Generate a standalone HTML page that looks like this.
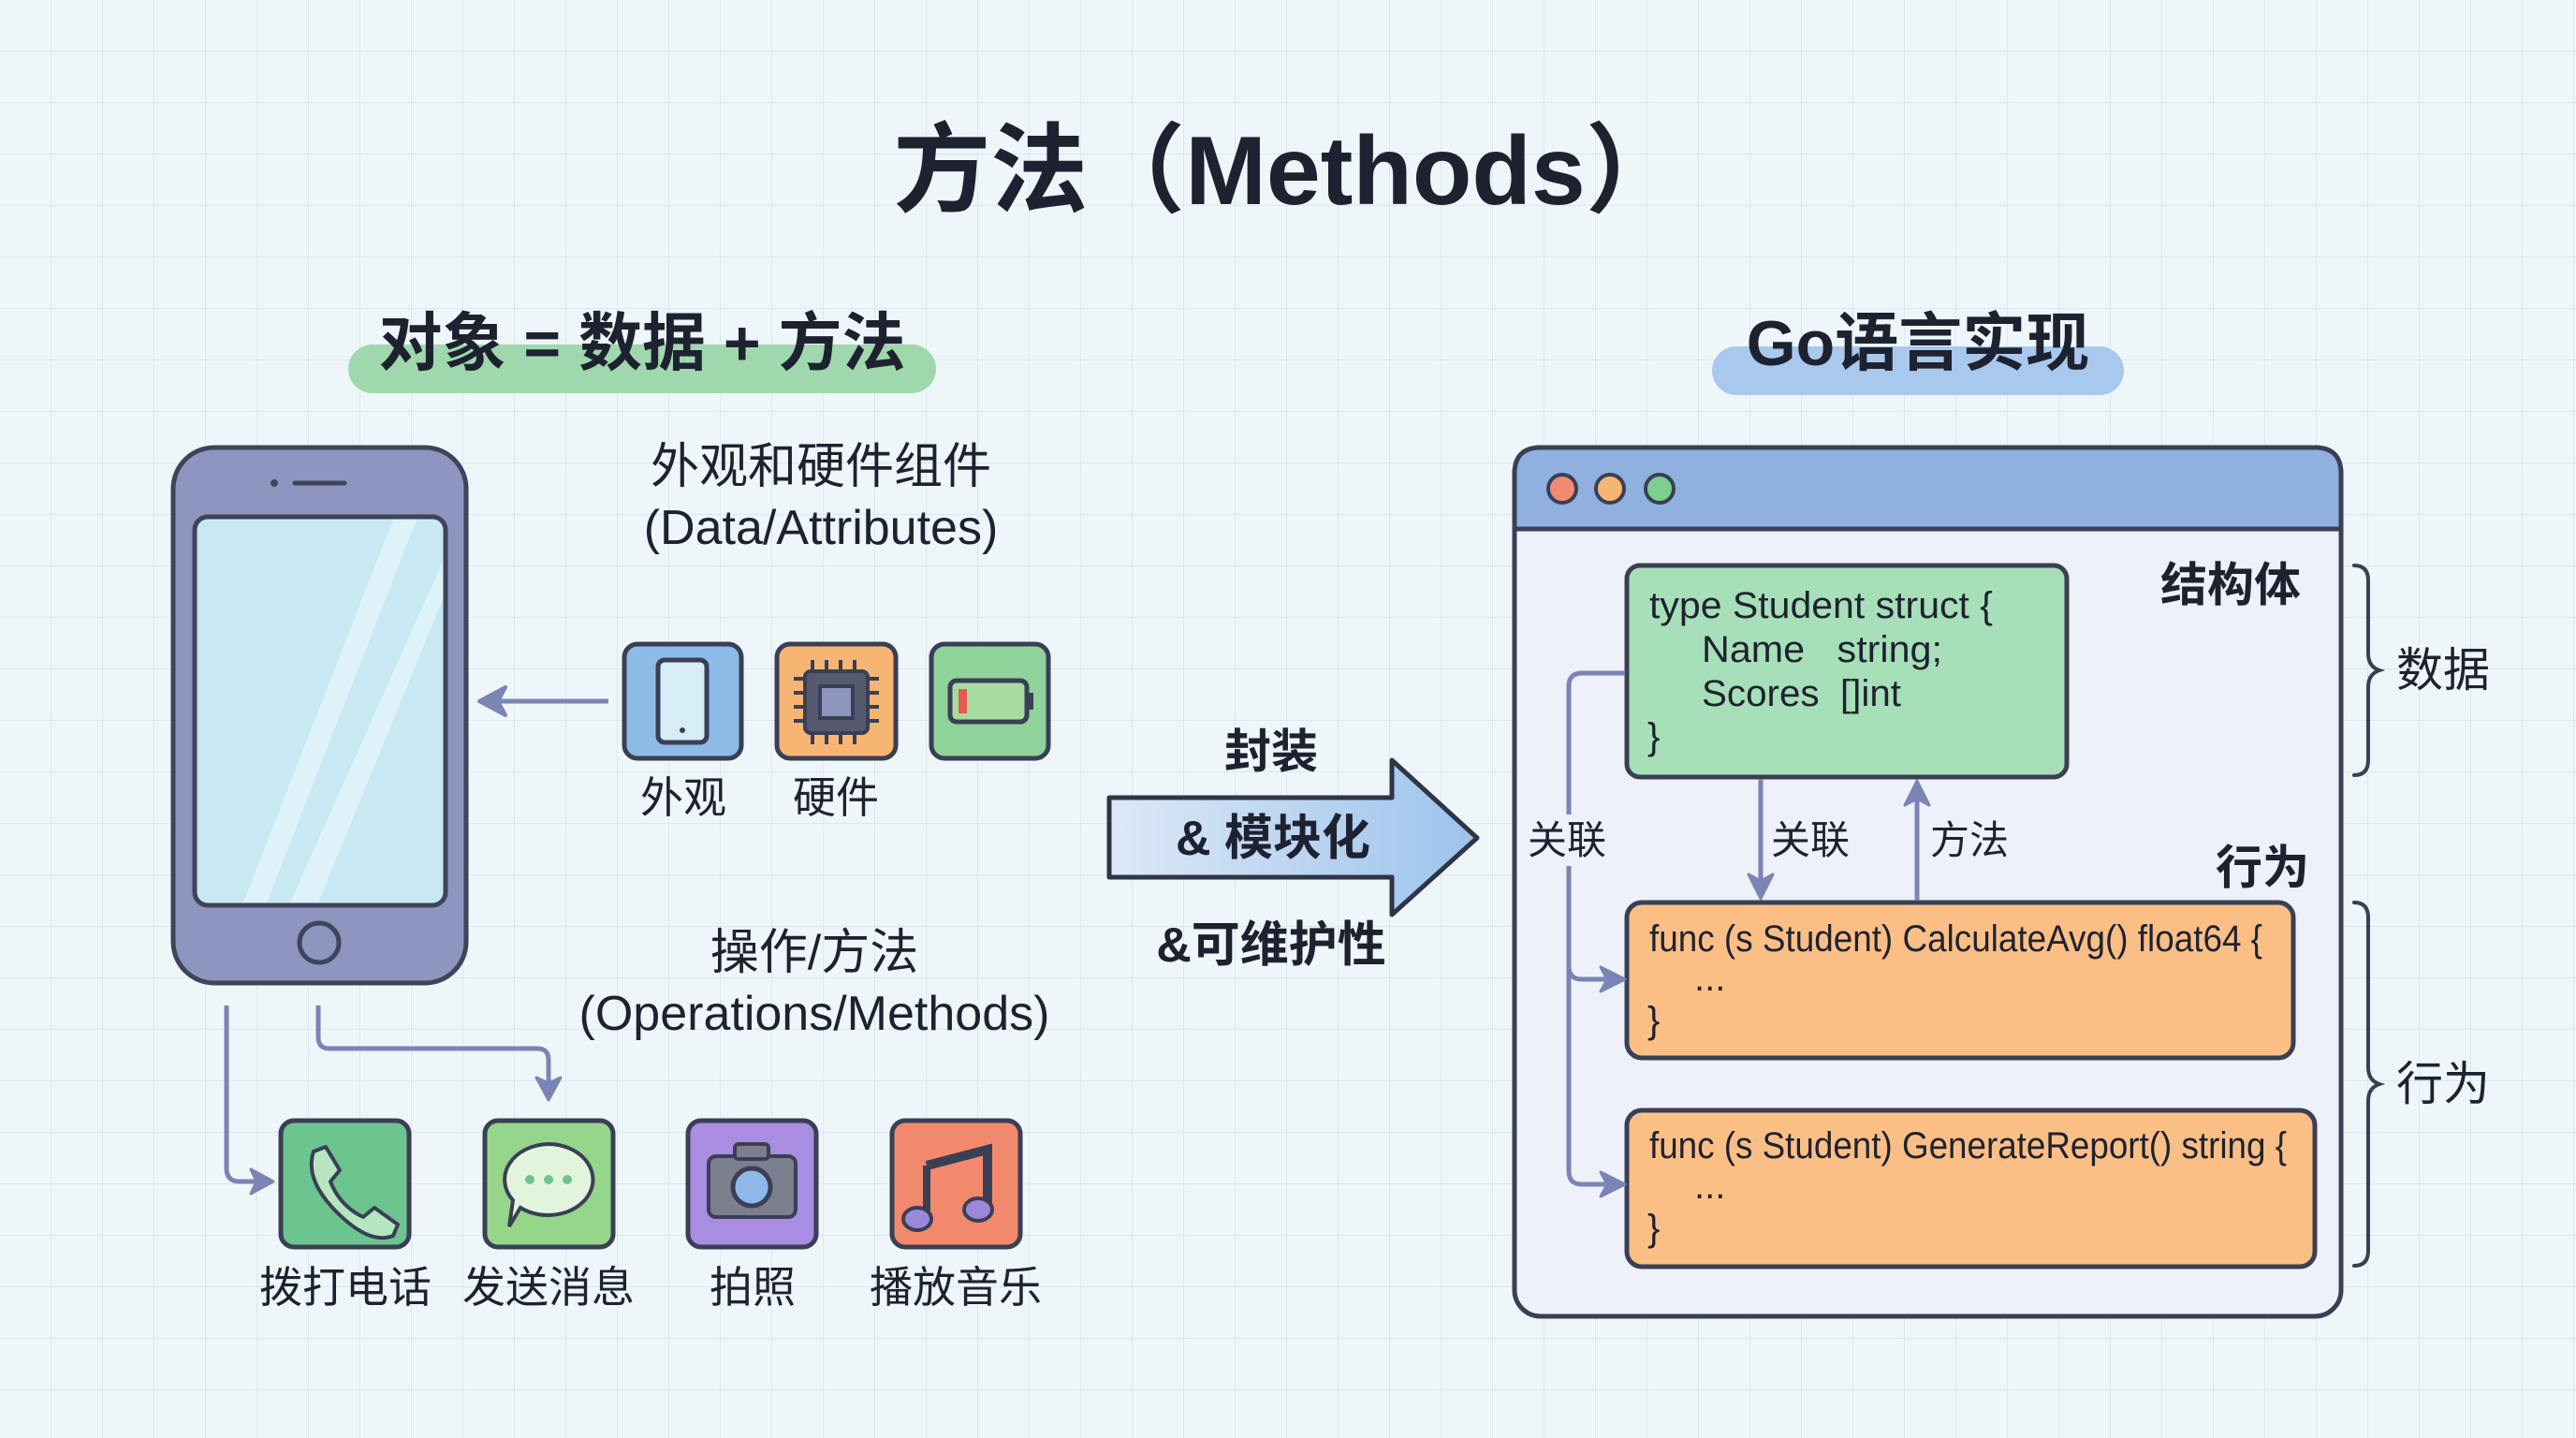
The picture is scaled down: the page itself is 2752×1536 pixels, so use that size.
<!DOCTYPE html>
<html><head><meta charset="utf-8"><style>
html,body{margin:0;padding:0}
body{width:2752px;height:1536px;overflow:hidden;background:#eef6f9}
svg{display:block}
text{font-family:"Liberation Sans","Noto Sans CJK SC",sans-serif;fill:#1e2230}
</style></head><body>
<svg width="2752" height="1536" viewBox="0 0 2752 1536" xmlns="http://www.w3.org/2000/svg">
<defs>
<pattern id="g" width="55" height="55" patternUnits="userSpaceOnUse">
<path d="M55 0V55M0 55H55" stroke="#dbe8ee" stroke-width="2" fill="none"/>
</pattern>
<linearGradient id="bg" x1="0" x2="1"><stop offset="0" stop-color="#dde9f7"/><stop offset="1" stop-color="#9cc3ec"/></linearGradient>
</defs>
<rect width="2752" height="1536" fill="#eef6f9"/>
<rect width="2752" height="1536" fill="url(#g)"/>

<!-- Title -->
<text x="1376" y="218" font-size="104" font-weight="bold" text-anchor="middle">方法（Methods）</text>

<!-- pills -->
<rect x="372" y="368" width="628" height="52" rx="26" fill="#9fd8ac"/>
<text x="686" y="390" font-size="68" font-weight="bold" text-anchor="middle">对象 = 数据 + 方法</text>
<rect x="1829" y="370" width="440" height="52" rx="26" fill="#a9c8ee"/>
<text x="2049" y="390" font-size="68" font-weight="bold" text-anchor="middle">Go语言实现</text>

<!-- phone -->
<rect x="185" y="478" width="313" height="572" rx="44" fill="#8e95bf" stroke="#3f4458" stroke-width="5"/>
<rect x="208" y="552" width="268" height="415" rx="14" fill="#c8e9f3" stroke="#3f4458" stroke-width="5"/>
<path d="M260 964 L420 555 L445 555 L285 964Z M310 964 L473 600 L473 640 L340 964Z" fill="#e4f5fa" opacity="0.8"/>
<circle cx="293" cy="516" r="4" fill="#3f4458"/>
<line x1="315" y1="516" x2="368" y2="516" stroke="#3f4458" stroke-width="5" stroke-linecap="round"/>
<circle cx="341" cy="1007" r="21" fill="none" stroke="#3f4458" stroke-width="5"/>

<text x="877" y="516" font-size="52" text-anchor="middle">外观和硬件组件</text>
<text x="877" y="581" font-size="52" text-anchor="middle">(Data/Attributes)</text>

<!-- arrow to phone -->
<line x1="650" y1="749" x2="520" y2="749" stroke="#7a84b5" stroke-width="5"/>
<path d="M512 749 L540 734 L532 749 L540 764Z" fill="#7a84b5" stroke="#7a84b5" stroke-width="4" stroke-linejoin="round"/>

<!-- data icons -->
<rect x="667" y="688" width="125" height="122" rx="14" fill="#8cbbe8" stroke="#3a3f55" stroke-width="5"/>
<rect x="703" y="705" width="52" height="88" rx="7" fill="#d6ecf6" stroke="#3a3f55" stroke-width="5"/>
<circle cx="729" cy="780" r="3" fill="#3a3f55"/>
<rect x="830" y="688" width="127" height="122" rx="14" fill="#f7b574" stroke="#3a3f55" stroke-width="5"/>
<g stroke="#3a3f55" stroke-width="4">
<path d="M860 725h-12M860 740h-12M860 755h-12M860 770h-12M927 725h12M927 740h12M927 755h12M927 770h12M868 717v-12M883 717v-12M898 717v-12M913 717v-12M868 783v12M883 783v12M898 783v12M913 783v12"/>
<rect x="860" y="717" width="67" height="66" rx="6" fill="#555a6e"/>
<rect x="876" y="733" width="35" height="34" fill="#8e95bf"/>
</g>
<rect x="995" y="688" width="125" height="122" rx="14" fill="#8fd39a" stroke="#3a3f55" stroke-width="5"/>
<rect x="1015" y="727" width="82" height="44" rx="7" fill="#a6dca0" stroke="#3a3f55" stroke-width="5"/>
<rect x="1097" y="740" width="7" height="18" fill="#3a3f55"/>
<rect x="1024" y="736" width="9" height="26" fill="#e85a4f"/>
<text x="730" y="868" font-size="46" text-anchor="middle">外观</text>
<text x="893" y="868" font-size="46" text-anchor="middle">硬件</text>

<!-- big arrow -->
<text x="1358" y="820" font-size="50" font-weight="bold" text-anchor="middle">封装</text>
<path d="M1185 852 H1487 V812 L1578 895 L1487 977 V937 H1185Z" fill="url(#bg)" stroke="#2f3446" stroke-width="5" stroke-linejoin="round"/>
<text x="1360" y="913" font-size="52" font-weight="bold" text-anchor="middle">&amp; 模块化</text>
<text x="1358" y="1027" font-size="52" font-weight="bold" text-anchor="middle">&amp;可维护性</text>

<text x="870" y="1035" font-size="52" text-anchor="middle">操作/方法</text>
<text x="870" y="1100" font-size="52" text-anchor="middle">(Operations/Methods)</text>

<!-- phone connectors -->
<g fill="none" stroke="#7a84b5" stroke-width="5">
<path d="M242 1074 V1248 Q242 1262 256 1262 H278"/>
<path d="M340 1074 V1108 Q340 1120 352 1120 H574 Q586 1120 586 1132 V1160"/>
</g>
<path d="M292 1262 L268 1249 L274 1262 L268 1275Z" fill="#7a84b5" stroke="#7a84b5" stroke-width="3" stroke-linejoin="round"/>
<path d="M586 1175 L573 1151 L586 1157 L599 1151Z" fill="#7a84b5" stroke="#7a84b5" stroke-width="3" stroke-linejoin="round"/>

<!-- op icons -->
<rect x="300" y="1197" width="137" height="135" rx="14" fill="#6cc48f" stroke="#3a3f55" stroke-width="5"/>
<path d="M335 1230 q-10 30 25 65 q35 35 60 25 l5-12 -25-18 -12 10 q-25-12 -35-38 l10-12 -15-25z" fill="#b5e6c0" stroke="#3a3f55" stroke-width="4" stroke-linejoin="round"/>
<rect x="518" y="1197" width="137" height="135" rx="14" fill="#95d68a" stroke="#3a3f55" stroke-width="5"/>
<path d="M586 1222 a48 38 0 1 1 -30 68 l-12 20 4-28 a48 38 0 0 1 38 -60z" fill="#e2f4dc" stroke="#3a3f55" stroke-width="4"/>
<circle cx="566" cy="1260" r="5" fill="#6cc48f"/><circle cx="586" cy="1260" r="5" fill="#6cc48f"/><circle cx="606" cy="1260" r="5" fill="#6cc48f"/>
<rect x="735" y="1197" width="137" height="135" rx="14" fill="#a98de0" stroke="#3a3f55" stroke-width="5"/>
<rect x="757" y="1235" width="93" height="65" rx="8" fill="#7c7f8e" stroke="#3a3f55" stroke-width="4"/>
<rect x="785" y="1222" width="36" height="16" rx="4" fill="#7c7f8e" stroke="#3a3f55" stroke-width="4"/>
<circle cx="803" cy="1268" r="20" fill="#8fb8ea" stroke="#3a3f55" stroke-width="5"/>
<rect x="953" y="1197" width="137" height="135" rx="14" fill="#f3896c" stroke="#3a3f55" stroke-width="5"/>
<path d="M990 1245 L1055 1228 V1290" fill="none" stroke="#3a3f55" stroke-width="10"/>
<path d="M990 1245 V1300" stroke="#3a3f55" stroke-width="8"/>
<ellipse cx="980" cy="1302" rx="15" ry="12" fill="#9c88d8" stroke="#3a3f55" stroke-width="4"/>
<ellipse cx="1045" cy="1292" rx="15" ry="12" fill="#9c88d8" stroke="#3a3f55" stroke-width="4"/>
<text x="369" y="1391" font-size="46" text-anchor="middle">拨打电话</text>
<text x="586" y="1391" font-size="46" text-anchor="middle">发送消息</text>
<text x="804" y="1391" font-size="46" text-anchor="middle">拍照</text>
<text x="1021" y="1391" font-size="46" text-anchor="middle">播放音乐</text>

<!-- window -->
<rect x="1618" y="478" width="883" height="928" rx="28" fill="#eef1fa" stroke="#3a3f55" stroke-width="5"/>
<path d="M1618 565 V506 Q1618 478 1646 478 H2473 Q2501 478 2501 506 V565Z" fill="#90b0e0" stroke="#3a3f55" stroke-width="5"/>
<circle cx="1669" cy="522" r="15" fill="#f08a72" stroke="#3a3f55" stroke-width="4"/>
<circle cx="1720" cy="522" r="15" fill="#f7b574" stroke="#3a3f55" stroke-width="4"/>
<circle cx="1773" cy="522" r="15" fill="#7ccf8f" stroke="#3a3f55" stroke-width="4"/>

<rect x="1738" y="604" width="470" height="226" rx="14" fill="#a7dfb8" stroke="#3a3f55" stroke-width="5"/>
<g font-size="40">
<text x="1762" y="660" textLength="367" lengthAdjust="spacingAndGlyphs">type Student struct {</text>
<text x="1818" y="707" textLength="257" lengthAdjust="spacingAndGlyphs">Name&#160;&#160;&#160;string;</text>
<text x="1818" y="754" textLength="213" lengthAdjust="spacingAndGlyphs">Scores&#160;&#160;[]int</text>
<text x="1760" y="800">}</text>
</g>
<text x="2383" y="642" font-size="50" font-weight="bold" text-anchor="middle">结构体</text>

<rect x="1738" y="964" width="712" height="166" rx="16" fill="#fbbf86" stroke="#3a3f55" stroke-width="5"/>
<g font-size="40">
<text x="1762" y="1016" textLength="655" lengthAdjust="spacingAndGlyphs">func (s Student) CalculateAvg() float64 {</text>
<text x="1810" y="1058">...</text>
<text x="1760" y="1103">}</text>
</g>
<rect x="1738" y="1186" width="735" height="167" rx="16" fill="#fbbf86" stroke="#3a3f55" stroke-width="5"/>
<g font-size="40">
<text x="1762" y="1237" textLength="681" lengthAdjust="spacingAndGlyphs">func (s Student) GenerateReport() string {</text>
<text x="1810" y="1280">...</text>
<text x="1760" y="1325">}</text>
</g>
<text x="2417" y="944" font-size="50" font-weight="bold" text-anchor="middle">行为</text>

<!-- window connectors -->
<g fill="none" stroke="#7a84b5" stroke-width="5">
<line x1="1881" y1="832" x2="1881" y2="940"/>
<line x1="2048" y1="962" x2="2048" y2="855"/>
<path d="M1736 719 H1690 Q1676 719 1676 733 V870"/>
<path d="M1676 925 V1032 Q1676 1046 1690 1046 H1715"/>
<path d="M1676 1032 V1251 Q1676 1265 1690 1265 H1715"/>
</g>
<path d="M1881 960 L1868 934 L1881 941 L1894 934Z" fill="#7a84b5" stroke="#7a84b5" stroke-width="3" stroke-linejoin="round"/>
<path d="M2048 834 L2035 860 L2048 853 L2061 860Z" fill="#7a84b5" stroke="#7a84b5" stroke-width="3" stroke-linejoin="round"/>
<path d="M1736 1046 L1710 1033 L1717 1046 L1710 1059Z" fill="#7a84b5" stroke="#7a84b5" stroke-width="3" stroke-linejoin="round"/>
<path d="M1736 1265 L1710 1252 L1717 1265 L1710 1278Z" fill="#7a84b5" stroke="#7a84b5" stroke-width="3" stroke-linejoin="round"/>
<text x="1674" y="912" font-size="42" text-anchor="middle">关联</text>
<text x="1934" y="912" font-size="42" text-anchor="middle">关联</text>
<text x="2104" y="912" font-size="42" text-anchor="middle">方法</text>

<!-- braces -->
<g fill="none" stroke="#3a3f55" stroke-width="4" stroke-linecap="round">
<path d="M2515 604 Q2530 604 2530 620 V698 Q2530 712 2542 716 Q2530 720 2530 734 V812 Q2530 828 2515 828"/>
<path d="M2515 964 Q2530 964 2530 980 V1140 Q2530 1154 2542 1158 Q2530 1162 2530 1176 V1336 Q2530 1352 2515 1352"/>
</g>
<text x="2610" y="733" font-size="50" text-anchor="middle">数据</text>
<text x="2610" y="1175" font-size="50" text-anchor="middle">行为</text>
</svg>
</body></html>
